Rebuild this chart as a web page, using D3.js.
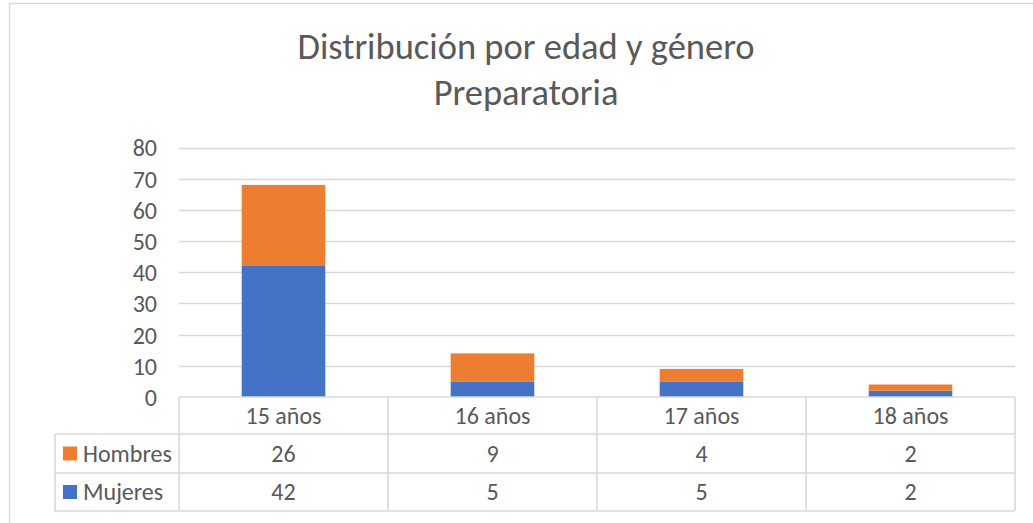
<!DOCTYPE html>
<html>
<head>
<meta charset="utf-8">
<script src="https://cdn.jsdelivr.net/npm/d3@7"></script>
<style>
  html, body { margin: 0; padding: 0; background: #ffffff; }
  svg { display: block; }
  text { font-family: Carlito, "Open Sans", "Noto Sans", sans-serif; fill: #595959; }
</style>
</head>
<body>
<svg id="chart" width="1033" height="523"></svg>
<script>
// ---- Data ----
const titleLines = ["Distribución por edad y género", "Preparatoria"];
const categories = ["15 años", "16 años", "17 años", "18 años"];
const seriesNames = ["Mujeres", "Hombres"];           // stacking order (bottom -> top)
const mujeres = [42, 5, 5, 2];
const hombres = [26, 9, 4, 2];
const yTicks = [0, 10, 20, 30, 40, 50, 60, 70, 80];
const tableOrder = ["Hombres", "Mujeres"];            // row order in data table
const colors = { Hombres: "#ED7D31", Mujeres: "#4472C4" };

// ---- Layout ----
const svg = d3.select("#chart");
const W = 1033, H = 523;
const plot = { left: 179, right: 1015, top: 147.5, bottom: 397 };
const rowH = [37, 39, 38];   // category row, Hombres row, Mujeres row
const tableLeft = 55;
const grid = "#D9D9D9";
const fs = 24;

// Outer chart border (clipped by the window at right/bottom)
svg.append("rect")
  .attr("x", 9.5).attr("y", 3.5)
  .attr("width", W + 20).attr("height", H + 20)
  .attr("fill", "#fff").attr("stroke", grid).attr("stroke-width", 1.3);

// Title
const title = svg.append("g");
title.selectAll("text").data(titleLines).join("text")
  .attr("x", 526)
  .attr("y", (d, i) => 59 + i * 46)
  .attr("text-anchor", "middle")
  .attr("font-size", 36.5)
  .attr("font-weight", 300)
  .text(d => d);

// Scales
const x = d3.scaleBand().domain(categories).range([plot.left, plot.right]).paddingInner(0).paddingOuter(0);
const barW = x.bandwidth() / 2.5;
const y = d3.scaleLinear().domain([0, 80]).range([plot.bottom, plot.top]);

// Gridlines
svg.append("g").selectAll("line").data(yTicks.filter(t => t > 0)).join("line")
  .attr("x1", plot.left).attr("x2", plot.right)
  .attr("y1", d => Math.round(y(d)) + 0.5).attr("y2", d => Math.round(y(d)) + 0.5)
  .attr("stroke", grid).attr("stroke-width", 1.3);

// Y axis labels via d3 axis
const yAxis = svg.append("g")
  .attr("transform", `translate(${plot.left - 22},0)`)
  .call(d3.axisLeft(y).tickValues(yTicks).tickSize(0).tickPadding(0));
yAxis.select(".domain").remove();
yAxis.selectAll("text")
  .attr("font-size", fs)
  .attr("fill", "#595959")
  .attr("font-family", 'Carlito, "Open Sans", sans-serif')
  .attr("dy", "0.35em");

// Stacked bars
const rows = categories.map((c, i) => ({ cat: c, Mujeres: mujeres[i], Hombres: hombres[i] }));
const stacked = d3.stack().keys(seriesNames)(rows);
svg.append("g").selectAll("g").data(stacked).join("g")
  .attr("fill", d => colors[d.key])
  .selectAll("rect").data(d => d).join("rect")
  .attr("x", d => x(d.data.cat) + (x.bandwidth() - barW) / 2)
  .attr("width", barW)
  .attr("y", d => y(d[1]))
  .attr("height", d => y(d[0]) - y(d[1]));

// Data table
const tbl = svg.append("g");
const yRow0 = plot.bottom;
const yRow1 = yRow0 + rowH[0];
const yRow2 = yRow1 + rowH[1];
const yRow3 = yRow2 + rowH[2];
const line = (x1, y1, x2, y2) => tbl.append("line")
  .attr("x1", x1).attr("y1", y1).attr("x2", x2).attr("y2", y2)
  .attr("stroke", grid).attr("stroke-width", 1.6);

// horizontal lines
line(plot.left, yRow0, plot.right, yRow0);
line(tableLeft, yRow1, plot.right, yRow1);
line(tableLeft, yRow2, plot.right, yRow2);
line(tableLeft, yRow3, plot.right, yRow3);
// vertical lines
line(tableLeft, yRow1, tableLeft, yRow3);
categories.forEach(c => line(x(c), yRow0, x(c), yRow3));
line(plot.right, yRow0, plot.right, yRow3);

// category labels
tbl.selectAll("text.cat").data(categories).join("text")
  .attr("class", "cat")
  .attr("x", d => x(d) + x.bandwidth() / 2)
  .attr("y", (yRow0 + yRow1) / 2)
  .attr("dy", "0.35em")
  .attr("text-anchor", "middle")
  .attr("font-size", fs)
  .text(d => d);

// series rows
const seriesVals = { Hombres: hombres, Mujeres: mujeres };
const rowYs = [(yRow1 + yRow2) / 2, (yRow2 + yRow3) / 2];
tableOrder.forEach((s, r) => {
  const cy = rowYs[r];
  tbl.append("rect")
    .attr("x", 63).attr("y", cy - 7).attr("width", 14).attr("height", 14)
    .attr("fill", colors[s]);
  tbl.append("text")
    .attr("x", 83).attr("y", cy).attr("dy", "0.35em")
    .attr("font-size", fs)
    .text(s);
  tbl.selectAll(null).data(seriesVals[s]).join("text")
    .attr("x", (d, i) => x(categories[i]) + x.bandwidth() / 2)
    .attr("y", cy).attr("dy", "0.35em")
    .attr("text-anchor", "middle")
    .attr("font-size", fs)
    .text(d => d);
});
</script>
</body>
</html>
